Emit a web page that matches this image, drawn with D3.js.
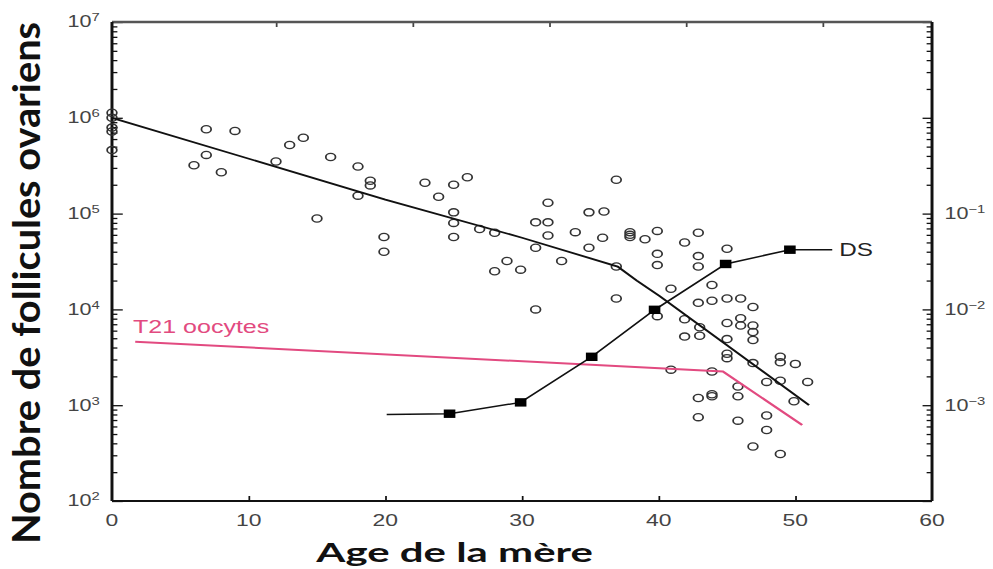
<!DOCTYPE html>
<html>
<head>
<meta charset="utf-8">
<script src="https://cdn.jsdelivr.net/npm/d3@7"></script>
<style>
  body { margin: 0; background: #fff; }
  svg { display: block; }
</style>
</head>
<body>
<div id="chart"></div>
<script>
// follicle counts (open circles)
const folAge = [0, 0, 0, 0, 0, 6.9, 9.0, 6.9, 6.0, 8.0, 12.0, 13.0, 14.0, 16.0, 18.0, 18.9, 18.9, 18.0, 15.0, 19.9, 19.9,
  22.9, 25.0, 26.0, 23.9, 25.0, 25.0, 25.0, 26.9, 28.0, 28.0, 28.9, 29.9, 31.0, 31.0, 31.9, 31.0, 31.9, 31.9, 32.9,
  33.9, 34.9, 36.0, 34.9, 35.9, 36.9, 36.9, 37.9, 36.9, 37.9, 37.9, 39.0, 39.9, 41.9, 42.9, 39.9, 39.9, 42.9, 42.9,
  45.0, 40.9, 43.9, 42.9, 43.9, 45.0, 46.0, 46.9, 39.9, 41.9, 41.9, 43.0, 43.0, 45.0, 46.0, 46.0, 46.9, 46.9, 46.9,
  45.0, 45.0, 45.0, 48.9, 48.9, 50.0, 46.9, 40.9, 43.9, 47.9, 48.9, 50.9, 45.8, 49.9, 42.9, 43.9, 43.9, 45.8, 42.9,
  45.8, 47.9, 47.9, 46.9, 48.9];
const folCount = [1.13e6, 1.0e6, 7.9e5, 7.2e5, 4.6e5, 7.6e5, 7.3e5, 4.1e5, 3.2e5, 2.7e5, 3.5e5, 5.2e5, 6.2e5, 3.9e5, 3.1e5, 2.2e5, 1.97e5, 1.54e5, 8.9e4, 5.7e4, 4.0e4,
  2.1e5, 2.0e5, 2.4e5, 1.5e5, 1.03e5, 8.0e4, 5.7e4, 6.9e4, 6.3e4, 2.5e4, 3.2e4, 2.6e4, 1.0e4, 4.4e4, 1.3e5, 8.1e4, 8.1e4, 5.9e4, 3.2e4,
  6.4e4, 1.03e5, 1.05e5, 4.4e4, 5.6e4, 2.26e5, 2.8e4, 6.0e4, 1.3e4, 6.4e4, 5.7e4, 5.4e4, 6.6e4, 5.0e4, 6.3e4, 3.8e4, 2.9e4, 3.6e4, 2.8e4,
  4.3e4, 1.64e4, 1.8e4, 1.17e4, 1.23e4, 1.3e4, 1.3e4, 1.06e4, 8.5e3, 7.9e3, 5.2e3, 5.3e3, 6.5e3, 7.2e3, 8.1e3, 6.8e3, 6.8e3, 5.8e3, 4.8e3,
  4.9e3, 3.45e3, 3.1e3, 3.2e3, 2.8e3, 2.7e3, 2.75e3, 2.35e3, 2.25e3, 1.75e3, 1.8e3, 1.75e3, 1.57e3, 1.1e3, 1.19e3, 1.24e3, 1.3e3, 1.24e3, 750,
  690, 780, 550, 370, 310];

// fitted follicle decline
const fitAge = [0, 20, 30, 37, 38.4, 40.1, 51];
const fitCount = [1.0e6, 1.4e5, 5.6e4, 2.8e4, 2.0e4, 1.37e4, 1.0e3];

// T21 oocytes
const t21Age = [1.7, 44.7, 50.5];
const t21Count = [4.6e3, 2.25e3, 6.2e2];

// DS rate (right axis); first and last are line ends without marker
const dsAge = [20.1, 24.7, 29.9, 35.1, 39.7, 44.9, 49.6, 52.7];
const dsRate = [8.0e-4, 8.15e-4, 1.07e-3, 3.2e-3, 9.9e-3, 2.98e-2, 4.2e-2, 4.2e-2];

const xTicks = [0, 10, 20, 30, 40, 50, 60];
const topTicks = [12, 22, 32, 42, 52];
const leftDecades = [1e2, 1e3, 1e4, 1e5, 1e6, 1e7];
const leftExp = ["2", "3", "4", "5", "6", "7"];
const rightDecades = [1e-1, 1e-2, 1e-3];
const rightExp = ["\u22121", "\u22122", "\u22123"];

// picture is stretched horizontally: draw in a narrower frame
const W = 993, H = 569, VW = 736;
const x0 = 83, x1 = 690.8, yTop = 22, yBot = 501;

const svg = d3.select("#chart").append("svg")
  .attr("width", W).attr("height", H)
  .attr("viewBox", `0 0 ${VW} ${H}`)
  .attr("preserveAspectRatio", "none");

const x = d3.scaleLinear().domain([0, 60]).range([x0, x1]);
const yL = d3.scaleLog().domain([1e2, 1e7]).range([yBot, yTop]);
const yR = d3.scaleLog().domain([1e-4, 1e1]).range([yBot, yTop]);

function minors(lo, hi) {
  const out = [];
  for (let d = lo; d < hi; d *= 10) for (let k = 2; k <= 9; k++) out.push(d * k);
  return out;
}

function styleAxis(g, col) {
  g.select(".domain").remove();
  g.selectAll("line").attr("stroke", col).attr("stroke-width", 1.3);
  g.selectAll("text").remove();
}

// left axis ticks
svg.append("g").attr("transform", `translate(${x0},0)`)
  .call(d3.axisRight(yL).tickValues(leftDecades).tickSize(8))
  .call(g => styleAxis(g, "#111"));
svg.append("g").attr("transform", `translate(${x0},0)`)
  .call(d3.axisRight(yL).tickValues(minors(1e2, 1e7)).tickSize(4))
  .call(g => styleAxis(g, "#111"));

// right axis ticks
svg.append("g").attr("transform", `translate(${x1},0)`)
  .call(d3.axisLeft(yR).tickValues([1e-4, 1e-3, 1e-2, 1e-1, 1, 10]).tickSize(7))
  .call(g => styleAxis(g, "#111"));
svg.append("g").attr("transform", `translate(${x1},0)`)
  .call(d3.axisLeft(yR).tickValues(minors(1e-4, 10)).tickSize(4))
  .call(g => styleAxis(g, "#111"));

// bottom / top ticks
svg.append("g").attr("transform", `translate(0,${yBot})`)
  .call(d3.axisTop(x).tickValues(xTicks.slice(1, -1)).tickSize(5))
  .call(g => styleAxis(g, "#111"));
svg.append("g").attr("transform", `translate(0,${yTop})`)
  .call(d3.axisBottom(x).tickValues(topTicks).tickSize(5))
  .call(g => styleAxis(g, "#444"));

// frame
svg.append("line").attr("x1", x0).attr("x2", x1).attr("y1", yTop).attr("y2", yTop)
  .attr("stroke", "#555").attr("stroke-width", 2.4);
svg.append("line").attr("x1", x0).attr("x2", x1).attr("y1", yBot).attr("y2", yBot)
  .attr("stroke", "#111").attr("stroke-width", 2.2);
svg.append("line").attr("x1", x0).attr("x2", x0).attr("y1", yTop).attr("y2", yBot)
  .attr("stroke", "#111").attr("stroke-width", 2.2);
svg.append("line").attr("x1", x1).attr("x2", x1).attr("y1", yTop).attr("y2", yBot)
  .attr("stroke", "#111").attr("stroke-width", 2.2);

// tick labels
const tickFont = "'Liberation Sans', Arial, sans-serif";
const lt = svg.append("g").selectAll("text").data(leftDecades).enter().append("text")
  .attr("x", 74).attr("y", d => yL(d) + 5.5)
  .attr("text-anchor", "end")
  .attr("font-family", tickFont).attr("font-size", 16).attr("fill", "#444");
lt.append("tspan").text("10");
lt.append("tspan").attr("dy", -6).attr("font-size", 11).text((d, i) => leftExp[i]);

const rt = svg.append("g").selectAll("text").data(rightDecades).enter().append("text")
  .attr("x", 700).attr("y", d => yR(d) + 5.5)
  .attr("font-family", tickFont).attr("font-size", 16).attr("fill", "#444");
rt.append("tspan").text("10");
rt.append("tspan").attr("dy", -6).attr("font-size", 11).text((d, i) => rightExp[i]);

svg.append("g").selectAll("text").data(xTicks).enter().append("text")
  .attr("x", d => x(d)).attr("y", 526)
  .attr("text-anchor", "middle")
  .attr("font-family", tickFont).attr("font-size", 17).attr("fill", "#444")
  .text(d => d);

// axis titles
svg.append("text")
  .attr("transform", `translate(29.5,283) rotate(-90)`)
  .attr("text-anchor", "middle")
  .attr("font-family", "Lato, 'Open Sans', sans-serif").attr("font-weight", 700)
  .attr("font-size", 28.5).attr("fill", "#111")
  .attr("textLength", 522).attr("lengthAdjust", "spacingAndGlyphs")
  .text("Nombre de follicules ovariens");

svg.append("text")
  .attr("x", 337).attr("y", 562)
  .attr("text-anchor", "middle")
  .attr("font-family", "Lato, 'Open Sans', sans-serif").attr("font-weight", 700)
  .attr("font-size", 27).attr("fill", "#111")
  .attr("textLength", 205).attr("lengthAdjust", "spacingAndGlyphs")
  .text("Age de la mère");

// scatter
svg.append("g").selectAll("circle").data(folAge).enter().append("circle")
  .attr("cx", d => x(d)).attr("cy", (d, i) => yL(folCount[i]))
  .attr("r", 3.6)
  .attr("fill", "none").attr("stroke", "#333").attr("stroke-width", 1.3);

// fitted line
const lineL = d3.line().x(d => x(d[0])).y(d => yL(d[1]));
svg.append("path").datum(d3.zip(fitAge, fitCount))
  .attr("d", lineL).attr("fill", "none").attr("stroke", "#111").attr("stroke-width", 1.8);

// T21 line
svg.append("path").datum(d3.zip(t21Age, t21Count))
  .attr("d", lineL).attr("fill", "none").attr("stroke", "#e24a80").attr("stroke-width", 2);

svg.append("text")
  .attr("x", 98.6).attr("y", 333)
  .attr("font-family", tickFont).attr("font-size", 18).attr("fill", "#e24a80")
  .attr("textLength", 101).attr("lengthAdjust", "spacingAndGlyphs")
  .text("T21 oocytes");

// DS line
const lineR = d3.line().x(d => x(d[0])).y(d => yR(d[1]));
const ds = d3.zip(dsAge, dsRate);
svg.append("path").datum(ds)
  .attr("d", lineR).attr("fill", "none").attr("stroke", "#111").attr("stroke-width", 1.5);

svg.append("g").selectAll("rect").data(ds.slice(1, -1)).enter().append("rect")
  .attr("x", d => x(d[0]) - 4.3).attr("y", d => yR(d[1]) - 4.2)
  .attr("width", 8.6).attr("height", 8.4)
  .attr("fill", "#000");

svg.append("text")
  .attr("x", 622).attr("y", 256.5)
  .attr("font-family", tickFont).attr("font-size", 18).attr("fill", "#222")
  .text("DS");
</script>
</body>
</html>
